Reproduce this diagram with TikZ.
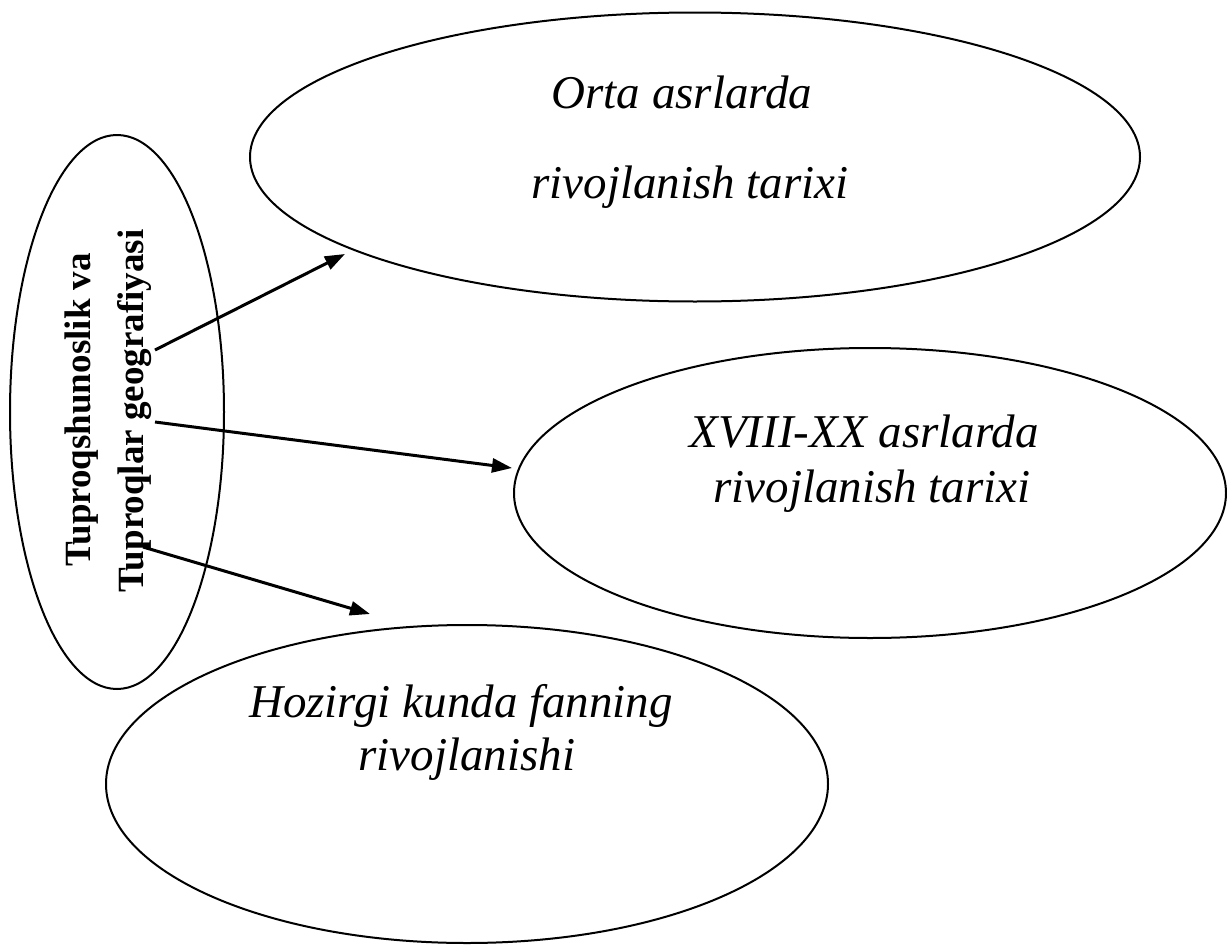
\documentclass[tikz,border=0pt]{standalone}
\usepackage{fontspec}
\setmainfont{Liberation Serif}
\usetikzlibrary{shapes.geometric,arrows.meta}
\begin{document}
\begin{tikzpicture}[x=1pt,y=-1pt,
  oval/.style={draw,ellipse,line width=2pt,inner sep=0pt},
  itl/.style={font=\fontsize{47}{55}\selectfont\itshape,anchor=base,inner sep=0pt},
  bld/.style={font=\fontsize{37}{44}\selectfont\bfseries,anchor=base,rotate=90,inner sep=0pt},
  arr/.style={-{Triangle[length=20pt,width=14pt]},line width=3pt}]
\useasboundingbox (0,0) rectangle (1227,945);
% ellipses
\node[oval,minimum width=214pt,minimum height=554pt] (L) at (117,412) {};
\node[oval,minimum width=890pt,minimum height=289pt] (T) at (695,157) {};
\node[oval,minimum width=712pt,minimum height=290pt] (M) at (870,493) {};
\node[oval,minimum width=722pt,minimum height=318pt] (B) at (467,784) {};
% texts
\node[bld] (l1) at (90,410) {Tuproqshunoslik va};
\node[bld] (l2) at (143,411) {Tuproqlar geografiyasi};
\node[itl] (t1) at (682,108) {Orta asrlarda};
\node[itl] (t2) at (690,198) {rivojlanish tarixi};
\node[itl] (m1) at (864,447) {XVIII-XX asrlarda};
\node[itl] (m2) at (872,502) {rivojlanish tarixi};
\node[itl] (b1) at (461,717) {Hozirgi kunda fanning};
\node[itl] (b2) at (467,770) {rivojlanishi};
% arrows
\coordinate (s1) at (155,350);
\coordinate (e1) at (345,254);
\coordinate (s2) at (155,422);
\coordinate (e2) at (512,468);
\coordinate (s3) at (143,547);
\coordinate (e3) at (370,614);
\draw[arr] (s1) -- (e1);
\draw[arr] (s2) -- (e2);
\draw[arr] (s3) -- (e3);
\end{tikzpicture}
\end{document}
